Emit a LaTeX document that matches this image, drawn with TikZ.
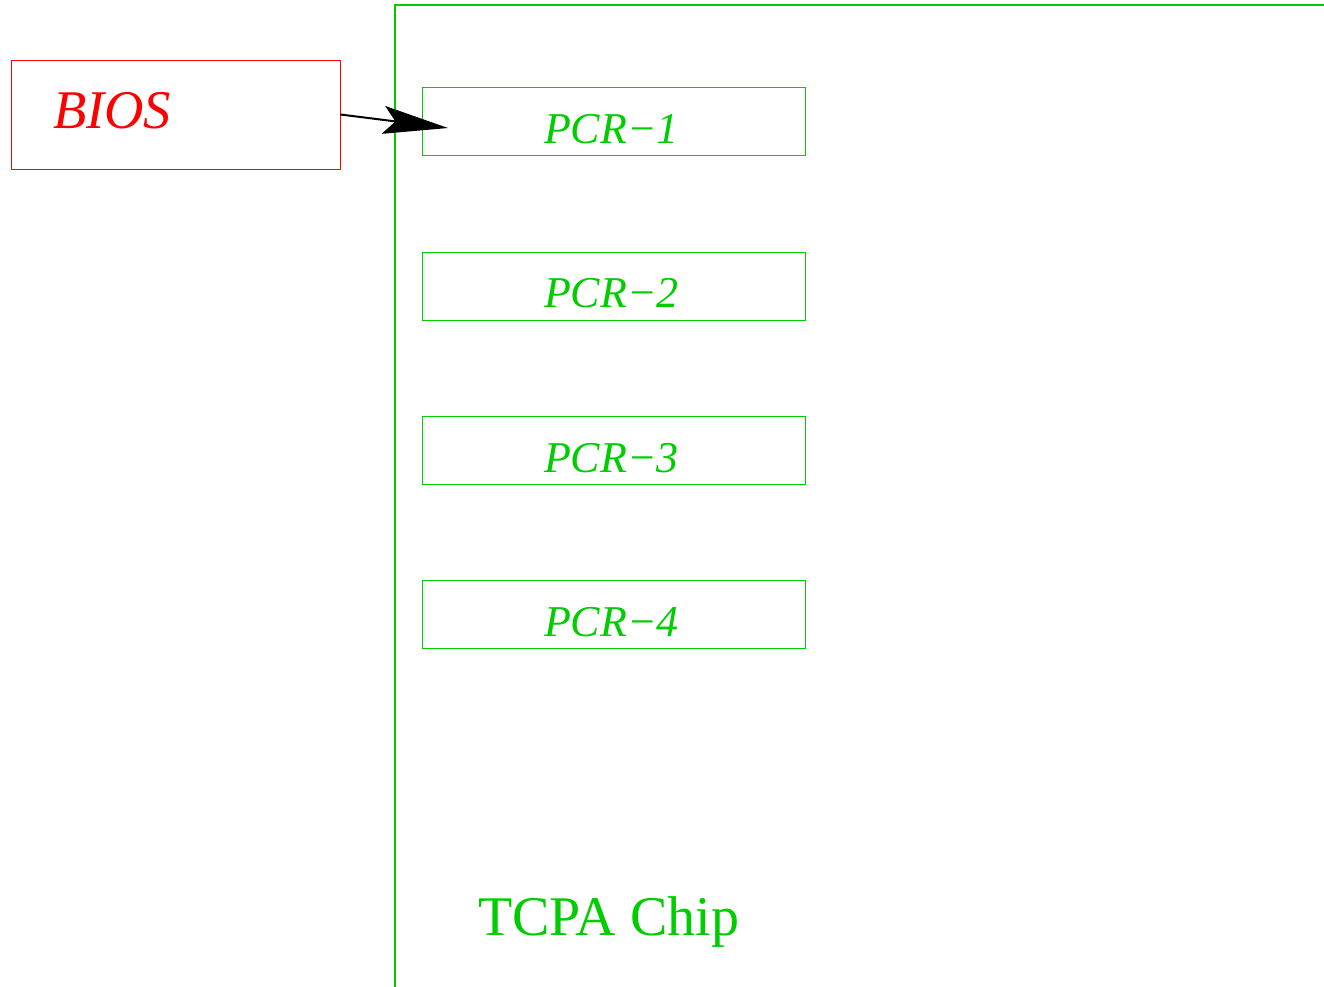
\documentclass[tikz,border=0pt]{standalone}
\usepackage{fontspec}
\setmainfont{Liberation Serif}
\usetikzlibrary{arrows.meta}
\definecolor{chipgreen}{RGB}{0,205,0}
\definecolor{biosred}{RGB}{255,0,0}
\tikzset{
  pcrbox/.style={draw=chipgreen, line width=1pt, minimum width=383pt, minimum height=68pt, inner sep=0pt},
  pcrtext/.style={text=chipgreen, anchor=base, inner sep=0pt, font=\fontsize{44}{50}\selectfont\itshape},
}
\begin{document}
\begin{tikzpicture}[x=1pt, y=-1pt]
  \useasboundingbox (0,0) rectangle (1324,986);
  \clip (0,0) rectangle (1324,986);
  % chip outline running off the right and bottom edges
  \draw[draw=chipgreen, line width=1.3pt] (395,1020) -- (395,5) -- (1360,5);
  \node[text=chipgreen, anchor=base west, inner sep=0pt, font=\fontsize{56}{62}\selectfont] (chip) at (478,935) {TCPA Chip};
  % BIOS block
  \node[draw=biosred, line width=1pt, minimum width=329pt, minimum height=109pt, inner sep=0pt] (bios) at (175.5,114.5) {};
  \node[text=biosred, anchor=base west, inner sep=0pt, font=\fontsize{54.5}{60}\selectfont\itshape] (biostext) at (53,128) {BIOS};
  % platform configuration registers
  \node[pcrbox] (pcr1) at (613.5,121) {};
  \node[pcrbox] (pcr2) at (613.5,286) {};
  \node[pcrbox] (pcr3) at (613.5,450) {};
  \node[pcrbox] (pcr4) at (613.5,614) {};
  \node[pcrtext] (t1) at (611.5,143) {PCR−1};
  \node[pcrtext] (t2) at (611.5,307) {PCR−2};
  \node[pcrtext] (t3) at (611.5,472) {PCR−3};
  \node[pcrtext] (t4) at (611.5,636) {PCR−4};
  % measurement arrow into the first register
  \coordinate (tip) at (448,128);
  \draw[line width=2pt, -{Stealth[length=65pt, width=28pt, inset=12pt]}] (bios.east) -- (tip);
\end{tikzpicture}
\end{document}
